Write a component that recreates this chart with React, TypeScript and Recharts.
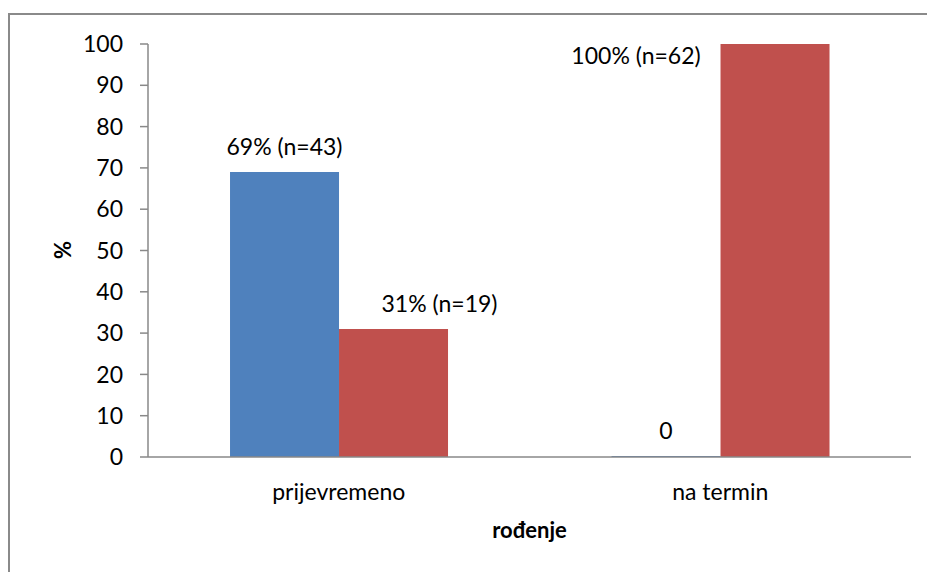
import React from "react";
import { BarChart, Bar, XAxis, YAxis, LabelList, Label } from "recharts";

// categories and values
const categories = ["prijevremeno", "na termin"];
const seriesBlue = [69, 0];
const seriesRed = [31, 100];
const labelsBlue = ["69% (n=43)", "0"];
const labelsRed = ["31% (n=19)", "100% (n=62)"];
const yTicks = [0, 10, 20, 30, 40, 50, 60, 70, 80, 90, 100];

const chartData = categories.map((name, i) => ({
  name,
  blue: seriesBlue[i],
  red: seriesRed[i],
}));

const FONT = "Lato, 'Open Sans', sans-serif";
const AXIS = "#898989";

// hand-placed label nudges, like in the original spreadsheet chart
const redNudge = [
  { dx: 46, dy: 0 },
  { dx: -139, dy: 37 },
];

const makeLabel = (texts: string[], nudge?: { dx: number; dy: number }[]) =>
  (props: any) => {
    const { x, y, width, height, index } = props;
    const n = nudge ? nudge[index] : { dx: 0, dy: 0 };
    // top of the bar (height can be negative/zero depending on the value)
    const top = Math.min(Number(y), Number(y) + Number(height || 0));
    return (
      <text
        x={Number(x) + Number(width) / 2 + n.dx}
        y={top - 26 + n.dy}
        textAnchor="middle"
        dominantBaseline="central"
        fontFamily={FONT}
        fontSize={23}
        fill="#000"
      >
        {texts[index]}
      </text>
    );
  };

export default function App() {
  return (
    <div style={{ position: "absolute", left: 0, top: 0, width: 927, height: 572, background: "#fff" }}>
      <div
        style={{
          position: "absolute",
          left: 8,
          top: 13,
          right: 0,
          bottom: 0,
          borderTop: "2px solid #8a8a8a",
          borderLeft: "2px solid #8a8a8a",
        }}
      />
      <BarChart
        width={927}
        height={572}
        data={chartData}
        margin={{ top: 44, right: 16, bottom: 30, left: 0 }}
        barCategoryGap="21.5%"
        barGap={0}
        style={{ position: "absolute", left: 0, top: 0 }}
      >
        <Bar dataKey="blue" fill="#4F81BD" minPointSize={1} isAnimationActive={false}>
          <LabelList dataKey="blue" content={makeLabel(labelsBlue)} />
        </Bar>
        <Bar dataKey="red" fill="#C0504D" isAnimationActive={false}>
          <LabelList dataKey="red" content={makeLabel(labelsRed, redNudge)} />
        </Bar>
        <XAxis
          dataKey="name"
          height={85}
          tickLine={false}
          tickSize={0}
          tickMargin={27}
          stroke={AXIS}
          strokeWidth={1.5}
          tick={{ fill: "#000", fontSize: 23, fontFamily: FONT }}
        >
          <Label
            value="rođenje"
            position="insideBottom"
            offset={4}
            style={{ fontWeight: "bold", fontSize: 22, fontFamily: FONT, fill: "#000" }}
          />
        </XAxis>
        <YAxis
          width={148}
          domain={[0, 100]}
          ticks={yTicks}
          interval={0}
          tickSize={8}
          tickMargin={17}
          stroke={AXIS}
          strokeWidth={1.5}
          tick={{ fill: "#000", fontSize: 23, fontFamily: FONT }}
        >
          <Label
            content={() => (
              <text
                x={62}
                y={250}
                transform="rotate(-90 62 250)"
                textAnchor="middle"
                dominantBaseline="central"
                fontWeight="bold"
                fontSize={22}
                fontFamily={FONT}
                fill="#000"
              >
                %
              </text>
            )}
          />
        </YAxis>
      </BarChart>
    </div>
  );
}
